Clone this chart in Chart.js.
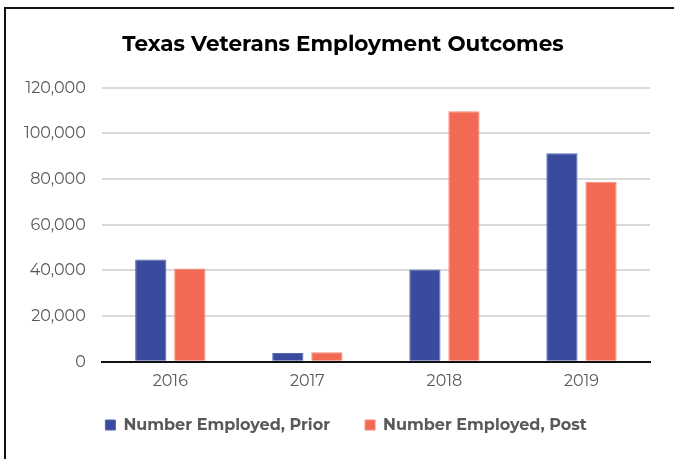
<!DOCTYPE html>
<html>
<head>
<meta charset="utf-8">
<script src="https://cdn.jsdelivr.net/npm/chart.js@4/dist/chart.umd.min.js"></script>
<style>
  body { margin: 0; background: #fff; }
  #wrap { position: relative; width: 674px; height: 459px; overflow: hidden; }
  #frame {
    position: absolute; left: 4px; top: 7px; width: 700px; height: 450px;
    border-left: 2px solid #111; border-top: 2px solid #111; border-bottom: 1px solid #999;
    pointer-events: none;
  }
</style>
</head>
<body>
<div id="wrap">
  <canvas id="myChart" width="674" height="459"></canvas>
  <div id="frame"></div>
</div>
<script>
  const years = ['2016', '2017', '2018', '2019'];
  const prior = [44800, 3900, 40400, 91300];
  const post = [40900, 4200, 109700, 78800];
  const yTicks = [0, 20000, 40000, 60000, 80000, 100000, 120000];

  const font = 'Montserrat, "Open Sans", sans-serif';

  // title and legend sit a little right of the plot centre in the original,
  // legend is pulled up a bit since its padding also widens the item gap
  const shiftBoxes = {
    id: 'shiftBoxes',
    afterLayout(chart) {
      const t = chart.titleBlock, l = chart.legend;
      if (t) { t.left += 14; t.right += 14; }
      if (l) { l.left += 17; l.right += 17; l.top -= 11; l.bottom -= 11; }
    }
  };

  const ctx = document.getElementById('myChart').getContext('2d');
  let myChart = new Chart(ctx, {
    type: 'bar',
    data: {
      labels: years,
      datasets: [
        {
          label: 'Number Employed, Prior',
          data: prior,
          backgroundColor: '#3a4b9f',
          borderColor: '#5566b0',
          borderWidth: 1,
          categoryPercentage: 0.57,
          barPercentage: 0.8
        },
        {
          label: 'Number Employed, Post',
          data: post,
          backgroundColor: '#f26a54',
          borderColor: '#f58a78',
          borderWidth: 1,
          categoryPercentage: 0.57,
          barPercentage: 0.8
        }
      ]
    },
    options: {
      responsive: false,
      animation: false,
      layout: { padding: { left: 8, right: 24, top: 0, bottom: 5 } },
      plugins: {
        title: {
          display: true,
          text: 'Texas Veterans Employment Outcomes',
          color: '#000',
          font: { family: font, size: 21.5, weight: 'bold' },
          padding: { top: 32, bottom: 30 }
        },
        legend: {
          position: 'bottom',
          labels: {
            color: '#595959',
            font: { family: font, size: 16, weight: 'bold' },
            boxWidth: 10,
            boxHeight: 10,
            padding: 35
          }
        },
        tooltip: { enabled: false }
      },
      scales: {
        x: {
          grid: { display: false },
          border: { color: '#111', width: 2 },
          ticks: { color: '#595959', font: { family: font, size: 16 }, padding: 2 }
        },
        y: {
          min: 0,
          max: 120000,
          afterBuildTicks: axis => { axis.ticks = yTicks.map(v => ({ value: v })); },
          grid: { color: '#d9d9d9', lineWidth: 2, drawTicks: false },
          border: { display: false },
          ticks: {
            color: '#595959',
            font: { family: font, size: 16 },
            padding: 16,
            callback: v => v.toLocaleString('en-US')
          }
        }
      }
    },
    plugins: [shiftBoxes]
  });
</script>
</body>
</html>
